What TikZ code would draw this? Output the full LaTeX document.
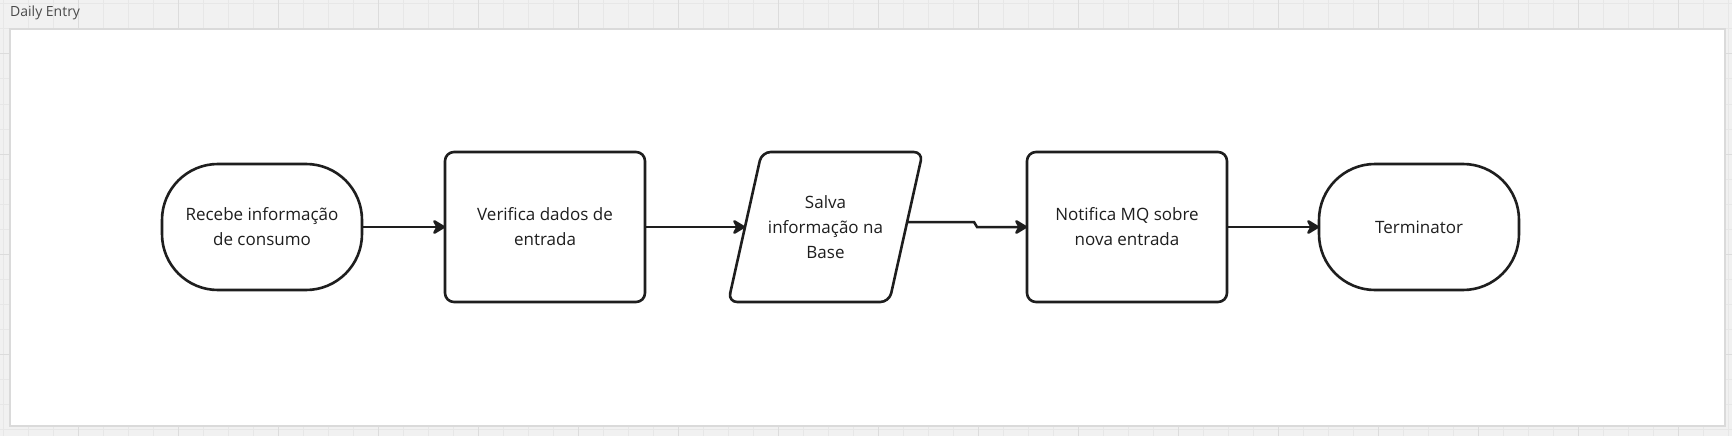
\documentclass[tikz,border=0pt]{standalone}
\usepackage{fontspec}
\setmainfont{Open Sans}
\usetikzlibrary{positioning,arrows.meta}
\definecolor{inkdark}{HTML}{1E1E1E}
\definecolor{gridbg}{HTML}{F1F1F1}
\definecolor{gridminor}{HTML}{E7E7E7}
\definecolor{gridmajor}{HTML}{DCDCDC}
\definecolor{frameline}{HTML}{DADADA}
\definecolor{titlegray}{HTML}{4A4A4A}
\tikzset{
  line/.style={-{Stealth[length=15pt, width=18pt, inset=5pt, round]}, line width=2.5pt, draw=inkdark},
  outline/.style={draw=inkdark, line width=2.6pt, line join=round},
  shapebox/.style={align=center, text=inkdark, font=\fontsize{17}{25}\selectfont, inner sep=4pt, outer sep=0pt},
  termbox/.style={shapebox, outline, fill=white, rectangle, rounded corners=56pt, minimum width=200pt, minimum height=126pt},
  procbox/.style={shapebox, outline, fill=white, rectangle, rounded corners=9pt, minimum width=200pt, minimum height=150pt},
  databox/.style={shapebox, rectangle, minimum width=161pt, minimum height=150pt}
}
\begin{document}
\begin{tikzpicture}[x=1pt, y=-1pt, node distance=83pt]
  \useasboundingbox (0,0) rectangle (1732,436);
  % board background
  \fill[gridbg] (0,0) rectangle (1732,436);
  \foreach \gx in {3,28,...,1728} \draw[gridminor, line width=1pt] (\gx,0) -- (\gx,436);
  \foreach \gy in {4,29,...,429} \draw[gridminor, line width=1pt] (0,\gy) -- (1732,\gy);
  \foreach \gx in {78,178,...,1678} \draw[gridmajor, line width=1pt] (\gx,0) -- (\gx,436);
  \foreach \gy in {54,154,254,354} \draw[gridmajor, line width=1pt] (0,\gy) -- (1732,\gy);
  \draw[frameline, fill=white, line width=1.5pt] (10,29) rectangle (1725,426);
  \node[anchor=west, inner sep=0pt, text=titlegray, font=\fontsize{14}{16}\selectfont] (title) at (10,13) {Daily Entry};

  \node[termbox] (recebe) at (262,227) {Recebe informação\\de consumo};
  \node[procbox, right=of recebe] (verifica) {Verifica dados de\\entrada};
  \node[databox, right=100pt of verifica] (salva) {Salva\\informação na\\Base};
  \node[procbox, right=121pt of salva] (notifica) {Notifica MQ sobre\\nova entrada};
  \node[termbox, right=92pt of notifica] (fim) {Terminator};

  % slanted data box
  \draw[outline, rounded corners=9pt] ([xshift=-16.75pt]salva.south west) -- ([xshift=16.75pt]salva.north west)
    -- ([xshift=16.75pt]salva.north east) -- ([xshift=-16.75pt]salva.south east) -- cycle;

  \draw[line] (recebe) -- (verifica);
  \draw[line] (verifica) -- (salva);
  \draw[line] ([yshift=5pt]salva.east) -- ++(68,0) -- ++(3,5) -- (notifica);
  \draw[line] (notifica) -- (fim);
\end{tikzpicture}
\end{document}
